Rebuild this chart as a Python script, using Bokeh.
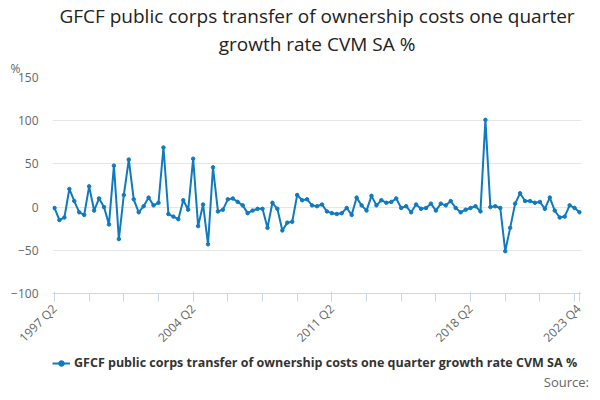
from bokeh.plotting import figure
from bokeh.models import Legend, LegendItem, Title, FixedTicker, Range1d, Div
from bokeh.layouts import column
from bokeh.embed import file_html
from bokeh.resources import INLINE

values = [-1,-15,-12,21,7,-6,-9,24,-4,10,0,-20,48,-37,14,55,9,-6,1,11,2,5,69,-8,-11,-14,8,-3,56,-22,3,-43,46,-5,-3,9,
          10,6,2,-7,-4,-2,-2,-24,5,-2,-27,-18,-17,14,8,9,2,1,3,-5,-7,-8,-7,-1,-9,11,2,-4,13,2,8,5,6,10,-1,1,
          -6,3,-2,-1,4,-4,4,2,7,-1,-6,-3,-1,1,-5,101,0,1,-1,-51,-24,4,16,7,7,5,6,-2,11,-4,-12,-11,2,-1,-6]
x = list(range(len(values)))
tick_idx = [0, 28, 56, 84, 106]
tick_labels = ["1997 Q2", "2004 Q2", "2011 Q2", "2018 Q2", "2023 Q4"]
title_lines = ["GFCF public corps transfer of ownership costs one quarter", "growth rate CVM SA %"]
series_name = "GFCF public corps transfer of ownership costs one quarter growth rate CVM SA %"
color = "#0f7ac0"

p = figure(width=584, height=354, output_backend="svg", toolbar_location=None,
           x_range=Range1d(-0.4, 106.4), y_range=Range1d(-100, 150),
           min_border_left=52, min_border_right=3, min_border_bottom=0, min_border_top=0)
p.title = None
p.add_layout(Title(text="%", align="left", offset=-42, text_font="Open Sans", text_font_size="12px",
                   text_font_style="normal", text_color="#666666", standoff=2), "above")
for t in reversed(title_lines):
    p.add_layout(Title(text=t, align="center", offset=-22, text_font="Open Sans", text_font_size="19px",
                       text_font_style="normal", text_color="#222222", standoff=0), "above")

p.line(x, values, line_color=color, line_width=2)
p.scatter(x, values, size=3.5, color=color)

p.xaxis.ticker = FixedTicker(ticks=tick_idx, minor_ticks=list(range(0, 107, 7)))
p.xaxis.major_label_overrides = {i: l for i, l in zip(tick_idx, tick_labels)}
p.xaxis.major_label_orientation = 0.785
p.yaxis.ticker = FixedTicker(ticks=[-100, -50, 0, 50, 100, 150])
for ax in (p.xaxis, p.yaxis):
    ax.major_label_text_font = "Open Sans"
    ax.major_label_text_font_size = "12px"
    ax.major_label_text_color = "#666666"
p.yaxis.axis_line_color = None
p.yaxis.major_tick_line_color = None
p.yaxis.minor_tick_line_color = None
p.yaxis.major_label_standoff = 8
p.xaxis.axis_line_color = "#ccd6eb"
p.xaxis.major_tick_line_color = "#ccd6eb"
p.xaxis.minor_tick_line_color = "#ccd6eb"
p.xaxis.minor_tick_in = 0
p.xaxis.minor_tick_out = 8
p.xaxis.major_tick_out = 8
p.xgrid.grid_line_color = None
p.ygrid.grid_line_color = "#e6e6e6"
p.outline_line_color = None

lf = figure(width=584, height=17, output_backend="svg", toolbar_location=None,
            min_border=0, x_axis_type=None, y_axis_type=None,
            x_range=Range1d(1000, 1001), y_range=Range1d(1000, 1001))
lf.outline_line_color = None
lf.xgrid.visible = False
lf.ygrid.visible = False
l1 = lf.line(x, values, line_color=color, line_width=2)
l2 = lf.scatter(x, values, size=4, color=color)
leg = Legend(items=[LegendItem(label=series_name, renderers=[l1, l2])],
             location=(0, 0), orientation="horizontal", border_line_color=None, background_fill_alpha=0,
             label_text_font="Open Sans", label_text_font_size="12.5px", label_text_font_style="bold",
             label_text_color="#333333", padding=0, margin=0, glyph_width=18, label_standoff=4,
             label_height=14, glyph_height=14)
lf.add_layout(leg, "center")

src = Div(text="Source:", width=584, height=13,
          styles={"text-align": "right", "font-family": "Open Sans", "font-size": "13px", "color": "#666666",
                  "line-height": "13px"})

open("out.html", "w").write(file_html(column(p, lf, src, spacing=0), INLINE))
